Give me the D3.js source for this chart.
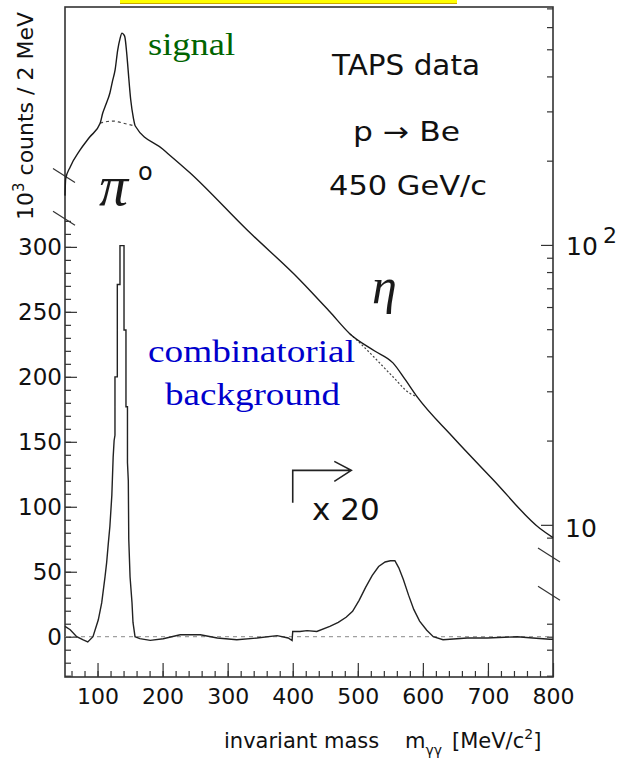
<!DOCTYPE html>
<html>
<head>
<meta charset="utf-8">
<script src="https://cdn.jsdelivr.net/npm/d3@7/dist/d3.min.js"></script>
<style>
  body { margin: 0; background: white; }
  .sans { font-family: "DejaVu Sans", Arial, sans-serif; fill: #111; }
  .serif { font-family: "Liberation Serif", "Times New Roman", serif; }
  .tick text { font-family: "DejaVu Sans", Arial, sans-serif; fill: #111; }
  .tick line { stroke: #333; stroke-width: 1.2; }
</style>
</head>
<body>
<div id="chart"></div>
<script>
// upper curve (log scale, right axis): signal + background
let massTotal   = [50, 51, 58, 73, 88, 104, 108, 113, 119, 123, 127, 131, 134.5, 137.6, 140, 142, 145, 147, 151, 155, 158,
                   200, 242, 330, 411, 457, 488, 526, 554, 573, 591, 646, 708, 780, 800];
let countsTotal = [150, 172, 190, 218, 243, 272, 296, 318, 349, 385, 422, 497, 545, 571, 565, 553, 480, 422, 330, 285, 266,
                   220, 181, 113, 75, 57.7, 48.1, 41.8, 37.9, 33, 28.7, 20.6, 14.5, 9.7, 9.0];

// dashed background under pi0 and eta
let massBgPi   = [104, 115, 124, 135, 146, 158];
let countsBgPi = [272, 276, 277, 274, 270, 266];
let massBgEta   = [488, 503, 526, 554, 580, 591];
let countsBgEta = [48.1, 44.7, 39.5, 33.8, 29.5, 28.7];

// lower histogram (linear scale, left axis), above 400 MeV multiplied by 20
let massLow = [50, 58, 68, 78, 85, 93, 101.2, 106.4, 111.5, 114, 116.6, 119, 122, 124, 125.5, 126.8, 126.8, 130.4, 130.4,
               134.5, 134.5, 140.7, 140.7, 143.7, 143.7, 146, 146, 147.3, 148, 150, 153, 154.5, 157.6, 165, 181, 201, 227,
               258, 284, 314, 345, 376, 393, 399, 400, 411, 422, 437, 457, 470, 482, 492, 502, 512, 522, 532, 542, 550,
               557, 563, 570, 578, 586, 595, 606, 616, 631, 668, 699, 745, 769, 795, 800];
let countsLow = [8, 5.4, 0, -2.5, -4, 0, 13, 26, 46, 57, 72, 85, 109, 138, 151, 155, 200, 200, 271,
                 271, 301, 301, 236, 236, 177, 177, 134, 120, 75, 46, 26, 11, 0, -1.5, -2.8, -1.6, 1.5,
                 1.5, -1, -2.3, -1, 0.8, -1, -3, 4, 4, 4.7, 4, 8, 11, 15, 19.5, 28, 38, 47, 54, 57.5, 58.5,
                 58.5, 53, 44, 32, 21, 12, 5, 0, -2.3, -1, -1, 0, -1, -2, -2];

// ticks
let xMajor = [100, 200, 300, 400, 500, 600, 700, 800];
let xMinor = d3.range(60, 800, 20);
let yMajor = [0, 50, 100, 150, 200, 250, 300];
let yMinor = d3.range(-30, 330, 10);
let logMajor = [10, 100];
let logMinor = [9, 20, 30, 40, 50, 60, 70, 80, 90, 200, 300, 400, 500, 600, 700];
let linRight = [10, 0, -10, -30];
let breaksLeft = [322, 355];    // linear units
let breaksRight = [7.8, 5.7];   // log units

let W = 627, H = 762;
let x = d3.scaleLinear().domain([50, 800]).range([65, 553]);
let yLin = d3.scaleLinear().domain([-31, 484.6]).range([677, 7]);
let yLog = d3.scaleLog().domain([2.86, 708]).range([677, 7]);

let svg = d3.select("#chart").append("svg")
  .attr("width", W).attr("height", H)
  .style("background", "white");

// yellow strip at the top (cut-off highlight)
svg.append("rect").attr("x", 120).attr("y", 0).attr("width", 337).attr("height", 3).attr("fill", "#ffff00");
svg.append("line").attr("x1", 120).attr("x2", 457).attr("y1", 3.5).attr("y2", 3.5)
  .attr("stroke", "#c9a800").attr("stroke-width", 1);

// frame
svg.append("rect")
  .attr("x", x(50)).attr("y", yLin(484.6))
  .attr("width", x(800) - x(50)).attr("height", yLin(-31) - yLin(484.6))
  .attr("fill", "none").attr("stroke", "#333").attr("stroke-width", 1.6);

// axes
function cleanAxis(g) { g.select(".domain").remove(); }

svg.append("g").attr("transform", "translate(0," + yLin(-31) + ")")
  .call(d3.axisBottom(x).tickValues(xMinor).tickSize(-6).tickFormat(""))
  .call(cleanAxis);
svg.append("g").attr("transform", "translate(0," + yLin(-31) + ")")
  .call(d3.axisBottom(x).tickValues(xMajor).tickSize(-14).tickPadding(11).tickFormat(d3.format("d")))
  .call(cleanAxis)
  .selectAll("text").style("font-size", "22px");

svg.append("g").attr("transform", "translate(" + x(50) + ",0)")
  .call(d3.axisLeft(yLin).tickValues(yMinor).tickSize(-6).tickFormat(""))
  .call(cleanAxis);
svg.append("g").attr("transform", "translate(" + x(50) + ",0)")
  .call(d3.axisLeft(yLin).tickValues(yMajor).tickSize(-12).tickPadding(3).tickFormat(d3.format("d")))
  .call(cleanAxis)
  .selectAll("text").style("font-size", "23px");

svg.append("g").attr("transform", "translate(" + x(800) + ",0)")
  .call(d3.axisRight(yLog).tickValues(logMinor).tickSize(-6).tickFormat(""))
  .call(cleanAxis);
svg.append("g").attr("transform", "translate(" + x(800) + ",0)")
  .call(d3.axisRight(yLog).tickValues(logMajor).tickSize(-12).tickFormat(""))
  .call(cleanAxis);
svg.append("g").attr("transform", "translate(" + x(800) + ",0)")
  .call(d3.axisRight(yLin).tickValues(linRight).tickSize(-6).tickFormat(""))
  .call(cleanAxis);

// right axis labels
let r1 = svg.append("text").attr("class", "sans").attr("x", 566).attr("y", yLog(100) + 10)
  .style("font-size", "25px");
r1.append("tspan").text("10");
r1.append("tspan").attr("x", 603).attr("dy", -12).style("font-size", "22px").text("2");
svg.append("text").attr("class", "sans").attr("x", 565).attr("y", yLog(10) + 12)
  .style("font-size", "25px").text("10");

// axis breaks
function slash(cx, cy) {
  svg.append("line").attr("x1", cx - 12).attr("y1", cy - 7).attr("x2", cx + 10).attr("y2", cy + 7)
    .attr("stroke", "#333").attr("stroke-width", 1.2);
}
breaksLeft.forEach(function(v) { slash(x(50), yLin(v)); });
breaksRight.forEach(function(v) { slash(x(800) - 3, yLog(v)); });

// zero line
svg.append("line")
  .attr("x1", x(50)).attr("x2", x(800)).attr("y1", yLin(0)).attr("y2", yLin(0))
  .attr("stroke", "#888").attr("stroke-width", 1).attr("stroke-dasharray", "4,4");

// curves
let lineLog = d3.line().x(function(d) { return x(d[0]); }).y(function(d) { return yLog(d[1]); })
  .curve(d3.curveMonotoneX);
let lineLin = d3.line().x(function(d) { return x(d[0]); }).y(function(d) { return yLin(d[1]); });

function pairs(a, b) { return a.map(function(v, i) { return [v, b[i]]; }); }

svg.append("path").datum(pairs(massBgPi, countsBgPi))
  .attr("d", lineLog).attr("fill", "none")
  .attr("stroke", "#444").attr("stroke-width", 1.2).attr("stroke-dasharray", "3,3");
svg.append("path").datum(pairs(massBgEta, countsBgEta))
  .attr("d", lineLog).attr("fill", "none")
  .attr("stroke", "#444").attr("stroke-width", 1.2).attr("stroke-dasharray", "2,2");
svg.append("path").datum(pairs(massTotal, countsTotal))
  .attr("d", lineLog).attr("fill", "none")
  .attr("stroke", "#1a1a1a").attr("stroke-width", 1.4);
svg.append("path").datum(pairs(massLow, countsLow))
  .attr("d", lineLin).attr("fill", "none")
  .attr("stroke", "#222").attr("stroke-width", 1.4);

// x20 marker
let ax0 = x(400), ax1 = x(490), ay = yLin(128);
svg.append("path")
  .attr("d", "M" + ax0 + "," + yLin(103) + " L" + ax0 + "," + ay + " L" + ax1 + "," + ay +
             " M" + (ax1 - 17) + "," + (ay - 9) + " L" + ax1 + "," + ay + " L" + (ax1 - 17) + "," + (ay + 11))
  .attr("fill", "none").attr("stroke", "#222").attr("stroke-width", 1.6);
svg.append("text").attr("class", "sans").attr("x", 312).attr("y", 520)
  .style("font-size", "31px").text("x 20");

// labels inside plot
svg.append("text").attr("class", "sans").attr("x", 332).attr("y", 75)
  .style("font-size", "28px").attr("textLength", 148).attr("lengthAdjust", "spacingAndGlyphs").text("TAPS data");
svg.append("text").attr("class", "sans").attr("x", 353).attr("y", 141)
  .style("font-size", "27px").attr("textLength", 107).attr("lengthAdjust", "spacingAndGlyphs").text("p \u2192 Be");
svg.append("text").attr("class", "sans").attr("x", 329).attr("y", 195)
  .style("font-size", "27px").attr("textLength", 158).attr("lengthAdjust", "spacingAndGlyphs").text("450 GeV/c");

svg.append("text").attr("class", "serif").attr("x", 148).attr("y", 55)
  .style("font-size", "32px").attr("fill", "#006400")
  .attr("textLength", 87).attr("lengthAdjust", "spacingAndGlyphs").text("signal");
svg.append("text").attr("class", "serif").attr("x", 148).attr("y", 362)
  .style("font-size", "31px").attr("fill", "#0000cc")
  .attr("textLength", 207).attr("lengthAdjust", "spacingAndGlyphs").text("combinatorial");
svg.append("text").attr("class", "serif").attr("x", 165).attr("y", 405)
  .style("font-size", "31px").attr("fill", "#0000cc")
  .attr("textLength", 175).attr("lengthAdjust", "spacingAndGlyphs").text("background");

svg.append("text").attr("class", "serif").attr("x", 99).attr("y", 205)
  .style("font-size", "58px").style("font-style", "italic").attr("fill", "#1a1a1a").text("\u03c0");
svg.append("text").attr("class", "sans").attr("x", 138).attr("y", 180)
  .style("font-size", "24px").text("o");
svg.append("text").attr("class", "serif").attr("x", 372).attr("y", 303)
  .style("font-size", "50px").style("font-style", "italic").attr("fill", "#1a1a1a").text("\u03b7");

// axis titles
let xt = svg.append("text").attr("class", "sans").attr("x", 224).attr("y", 748).style("font-size", "21px");
xt.append("tspan").text("invariant mass");
xt.append("tspan").attr("x", 405).text("m");
xt.append("tspan").attr("dy", 7).style("font-size", "14px").text("\u03b3\u03b3");
xt.append("tspan").attr("x", 452).attr("dy", -7).text("[MeV/c");
xt.append("tspan").attr("dy", -9).style("font-size", "14px").text("2");
xt.append("tspan").attr("dy", 9).text("]");

let yt = svg.append("text").attr("class", "sans")
  .attr("transform", "translate(33,220) rotate(-90)").style("font-size", "22px");
yt.append("tspan").text("10");
yt.append("tspan").attr("dy", -9).style("font-size", "15px").text("3");
yt.append("tspan").attr("dy", 9).text(" counts / 2 MeV");
</script>
</body>
</html>
